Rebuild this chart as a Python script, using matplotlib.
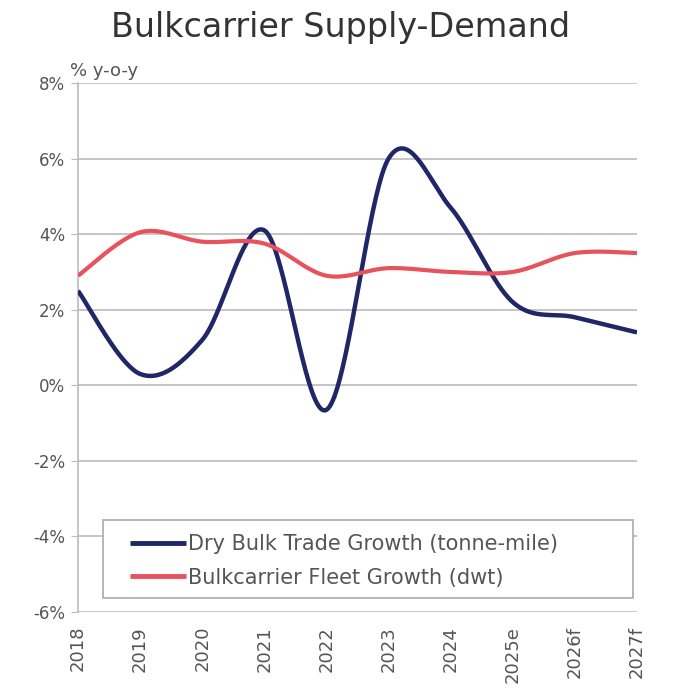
import numpy as np
import matplotlib
matplotlib.use("Agg")
import matplotlib.pyplot as plt
from matplotlib.patches import Rectangle

years = ["2018", "2019", "2020", "2021", "2022", "2023", "2024", "2025e", "2026f", "2027f"]
trade_growth = [2.5, 0.3, 1.2, 4.1, -0.65, 6.0, 4.7, 2.2, 1.8, 1.4]
fleet_growth = [2.9, 4.05, 3.8, 3.75, 2.9, 3.1, 3.0, 3.0, 3.5, 3.5]


def smooth(x, y, n=40):
    # excel-style bezier smoothing
    x = np.asarray(x, float)
    y = np.asarray(y, float)
    px = np.concatenate([[x[0]], x, [x[-1]]])
    py = np.concatenate([[y[0]], y, [y[-1]]])
    xs, ys = [], []
    t = np.linspace(0, 1, n)
    for i in range(len(x) - 1):
        p0 = np.array([px[i + 1], py[i + 1]])
        p3 = np.array([px[i + 2], py[i + 2]])
        c1 = p0 + (np.array([px[i + 2], py[i + 2]]) - np.array([px[i], py[i]])) / 6
        c2 = p3 - (np.array([px[i + 3], py[i + 3]]) - np.array([px[i + 1], py[i + 1]])) / 6
        b = (np.outer((1 - t) ** 3, p0) + np.outer(3 * (1 - t) ** 2 * t, c1)
             + np.outer(3 * (1 - t) * t ** 2, c2) + np.outer(t ** 3, p3))
        xs.extend(b[:, 0])
        ys.extend(b[:, 1])
    return np.array(xs), np.array(ys)


plt.rcParams["font.family"] = ["DejaVu Sans"]
fig = plt.figure(figsize=(6.87, 6.88), dpi=100)
ax = fig.add_axes([78 / 687, 1 - 612 / 688, 559 / 687, 529 / 688])

xi = np.arange(len(years))
bx, by = smooth(xi, trade_growth)
rx, ry = smooth(xi, fleet_growth)
ax.plot(bx, by, color="#1f2766", lw=3.2, solid_capstyle="butt",
        label="Dry Bulk Trade Growth (tonne-mile)", zorder=3)
ax.plot(rx, ry, color="#e8525c", lw=3.0, solid_capstyle="butt",
        label="Bulkcarrier Fleet Growth (dwt)", zorder=3)

ax.set_xlim(0, len(years) - 1)
ax.set_ylim(-6, 8)
ax.set_yticks(np.arange(-6, 9, 2))
ax.set_yticklabels(["%d%%" % v for v in range(-6, 9, 2)], color="#555555", fontsize=12)
ax.set_xticks(xi)
ax.set_xticklabels(years, rotation=90, color="#555555", fontsize=13)
ax.grid(axis="y", color="#bbbbbb", lw=1.2)
ax.tick_params(axis="y", length=5, color="#bbbbbb", pad=4)
ax.tick_params(axis="x", length=0, pad=10)
for s in ["top", "right", "bottom"]:
    ax.spines[s].set_visible(False)
ax.spines["left"].set_color("#bbbbbb")
ax.spines["left"].set_linewidth(1.2)

fig.text(341 / 687, 1 - 28 / 688, "Bulkcarrier Supply-Demand", ha="center", va="center",
         fontsize=24, color="#333333")
fig.text(70 / 687, 1 - 71 / 688, "% y-o-y", ha="left", va="center", fontsize=13,
         color="#555555")

# legend box
ax.add_patch(Rectangle((25 / 559, 14 / 529), 530 / 559, 78 / 529, transform=ax.transAxes,
                       facecolor="white", edgecolor="#aaaaaa", lw=1.2, zorder=4))
leg = ax.legend(loc="center left", bbox_to_anchor=(52 / 559, 51 / 529),
                fontsize=15, frameon=False, handlelength=2.7, handletextpad=0.1,
                borderpad=0, labelspacing=0.65, borderaxespad=0)
leg.set_zorder(5)
for t in leg.get_texts():
    t.set_color("#555555")
for h in leg.get_lines():
    h.set_linewidth(3.5)

fig.savefig("out.png", dpi=100)
